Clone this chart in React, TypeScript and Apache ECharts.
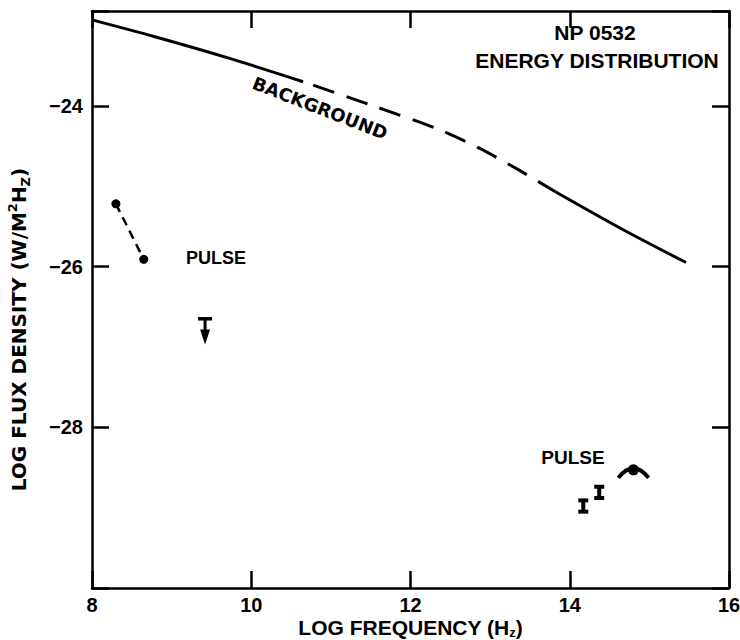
import React, { useEffect, useRef } from 'react';
import * as echarts from 'echarts';

// Axis ticks that carry labels
const xTickLabels = [8, 10, 12, 14, 16];
const yTickLabels = [-24, -26, -28];

// Background energy distribution (log freq, log flux density)
const bgSolidLow = [
  [8.0, -22.93],
  [8.79, -23.14],
  [9.73, -23.41],
  [10.65, -23.7],
];
const bgDashed = [
  [10.65, -23.7],
  [11.56, -24.01],
  [12.37, -24.3],
  [12.87, -24.53],
  [13.38, -24.81],
  [13.82, -25.07],
];
const bgSolidHigh = [
  [13.82, -25.07],
  [14.63, -25.52],
  [15.46, -25.95],
];

// Radio pulse points
const radioPulse = [
  [8.3, -25.22],
  [8.65, -25.91],
];
// Upper limit: [freq, flux, arrow end]
const upperLimit = [[9.42, -26.65, -26.97]];
// Optical / IR pulse points: [freq, flux, error]
const opticalBars = [
  [14.17, -28.98, 0.07],
  [14.37, -28.81, 0.07],
];
// Optical arch point: [freq, flux, half-width in freq]
const opticalArch = [[14.8, -28.53, 0.19]];

const LIB = '"Liberation Sans", sans-serif';
const DJV = '"DejaVu Sans", sans-serif';

export default function App() {
  const ref = useRef<HTMLDivElement>(null);
  useEffect(() => {
    if (!ref.current) return;
    const chart = echarts.init(ref.current, null, { renderer: 'svg' });
    const axisLine = { lineStyle: { color: '#000', width: 2.5 } };
    const axisTick = { inside: true, length: 17, lineStyle: { color: '#000', width: 2.5 } };
    const tickLabel = { color: '#000', fontSize: 20, fontWeight: 'bold' as const, fontFamily: LIB };
    const yName = { color: '#000', fontWeight: 'bold' as const, fontFamily: DJV };
    const option: any = {
      animation: false,
      backgroundColor: '#fff',
      grid: { left: 92, right: 11, top: 11, bottom: 52, outerBoundsMode: 'none', containLabel: false },
      xAxis: [
        {
          type: 'value', min: 8, max: 16, interval: 2, position: 'bottom',
          axisLine, axisTick, splitLine: { show: false },
          axisLabel: { ...tickLabel, margin: 7, formatter: (v: number) => (xTickLabels.includes(v) ? String(v) : '') },
          name: '{a|LOG FREQUENCY (H}{s|z}{a|)}',
          nameLocation: 'middle', nameGap: 27, nameMoveOverlap: false,
          nameTextStyle: {
            verticalAlign: 'top',
            rich: {
              a: { ...tickLabel, fontSize: 21, lineHeight: 24 },
              s: { ...tickLabel, fontSize: 13, lineHeight: 24, verticalAlign: 'bottom', padding: [10, 0, 0, 0] },
            },
          },
        },
        {
          type: 'value', min: 8, max: 16, interval: 2, position: 'top',
          axisLine, axisTick, splitLine: { show: false }, axisLabel: { show: false },
        },
      ],
      yAxis: [
        {
          type: 'value', min: -30, max: -22.82, interval: 2, position: 'left',
          axisLine, axisTick, splitLine: { show: false },
          axisLabel: { ...tickLabel, margin: 9, formatter: (v: number) => (yTickLabels.includes(v) ? '\u2212' + Math.abs(v) : '') },
          name: '{a|LOG FLUX DENSITY (W/M}{p|2}{a|H}{s|Z}{a|)}',
          nameLocation: 'middle', nameGap: 60, nameRotate: 90,
          nameTextStyle: {
            padding: [0, 60, 0, 0],
            rich: {
              a: { ...yName, fontSize: 20, lineHeight: 26 },
              p: { ...yName, fontSize: 13, lineHeight: 26, verticalAlign: 'top' },
              s: { ...yName, fontSize: 13, lineHeight: 26, verticalAlign: 'bottom', padding: [12, 0, 0, 0] },
            },
          },
        },
        {
          type: 'value', min: -30, max: -22.82, interval: 2, position: 'right',
          axisLine, axisTick, splitLine: { show: false }, axisLabel: { show: false },
        },
      ],
      series: [
        {
          type: 'line', data: bgSolidLow, smooth: 0.3, showSymbol: false,
          lineStyle: { color: '#000', width: 3 },
        },
        {
          type: 'line', data: bgDashed, smooth: 0.3, showSymbol: false,
          lineStyle: { color: '#000', width: 3, type: [22, 13], dashOffset: 24 },
        },
        {
          type: 'line', data: bgSolidHigh, smooth: 0.3, showSymbol: false,
          lineStyle: { color: '#000', width: 3 },
        },
        {
          type: 'line', data: radioPulse, symbol: 'circle', symbolSize: 9,
          itemStyle: { color: '#000' },
          lineStyle: { color: '#000', width: 2.5, type: [9, 6] },
        },
        {
          type: 'custom', data: upperLimit,
          renderItem: (params: any, api: any) => {
            const x = api.value(0);
            const p = api.coord([x, api.value(1)]);
            const e = api.coord([x, api.value(2)]);
            const hw = 7;
            return {
              type: 'group',
              children: [
                { type: 'line', shape: { x1: p[0] - hw, y1: p[1], x2: p[0] + hw, y2: p[1] }, style: { stroke: '#000', lineWidth: 3.5 } },
                { type: 'line', shape: { x1: p[0], y1: p[1], x2: p[0], y2: e[1] - 12 }, style: { stroke: '#000', lineWidth: 3 } },
                { type: 'polygon', shape: { points: [[p[0] - 5, e[1] - 15], [p[0] + 5, e[1] - 15], [p[0], e[1]]] }, style: { fill: '#000' } },
              ],
            };
          },
        },
        {
          type: 'custom', data: opticalBars,
          renderItem: (params: any, api: any) => {
            const x = api.value(0);
            const y = api.value(1);
            const er = api.value(2);
            const t = api.coord([x, y + er]);
            const b = api.coord([x, y - er]);
            const w = 5;
            const st = { stroke: '#000', lineWidth: 4 };
            return {
              type: 'group',
              children: [
                { type: 'line', shape: { x1: t[0], y1: t[1], x2: b[0], y2: b[1] }, style: st },
                { type: 'line', shape: { x1: t[0] - w, y1: t[1], x2: t[0] + w, y2: t[1] }, style: st },
                { type: 'line', shape: { x1: b[0] - w, y1: b[1], x2: b[0] + w, y2: b[1] }, style: st },
              ],
            };
          },
        },
        {
          type: 'custom', data: opticalArch,
          renderItem: (params: any, api: any) => {
            const x = api.value(0);
            const y = api.value(1);
            const hw = api.value(2);
            const p = api.coord([x, y]);
            const l = api.coord([x - hw, y]);
            const r = api.coord([x + hw, y]);
            return {
              type: 'group',
              children: [
                { type: 'bezierCurve', shape: { x1: l[0], y1: p[1] + 8, x2: r[0], y2: p[1] + 8, cpx1: p[0], cpy1: p[1] - 11 }, style: { stroke: '#000', lineWidth: 4, fill: 'none' } },
                { type: 'circle', shape: { cx: p[0], cy: p[1], r: 5.5 }, style: { fill: '#000' } },
              ],
            };
          },
        },
      ],
      graphic: [
        { type: 'text', x: 595, y: 32, style: { text: 'NP 0532', font: `bold 21px ${LIB}`, fill: '#000', textAlign: 'center', textVerticalAlign: 'middle' } },
        { type: 'text', x: 597, y: 60, style: { text: 'ENERGY DISTRIBUTION', font: `bold 21px ${LIB}`, fill: '#000', textAlign: 'center', textVerticalAlign: 'middle' } },
        { type: 'text', x: 320, y: 108, rotation: -0.37, style: { text: 'BACKGROUND', font: `bold 18px ${DJV}`, fill: '#000', textAlign: 'center', textVerticalAlign: 'middle' } },
        { type: 'text', x: 216, y: 258, style: { text: 'PULSE', font: `bold 18px ${LIB}`, fill: '#000', textAlign: 'center', textVerticalAlign: 'middle' } },
        { type: 'text', x: 573, y: 457, style: { text: 'PULSE', font: `bold 19px ${LIB}`, fill: '#000', textAlign: 'center', textVerticalAlign: 'middle' } },
      ],
    };
    chart.setOption(option);
    return () => chart.dispose();
  }, []);
  return <div ref={ref} style={{ position: 'fixed', left: 0, top: 0, width: 740, height: 640 }} />;
}
